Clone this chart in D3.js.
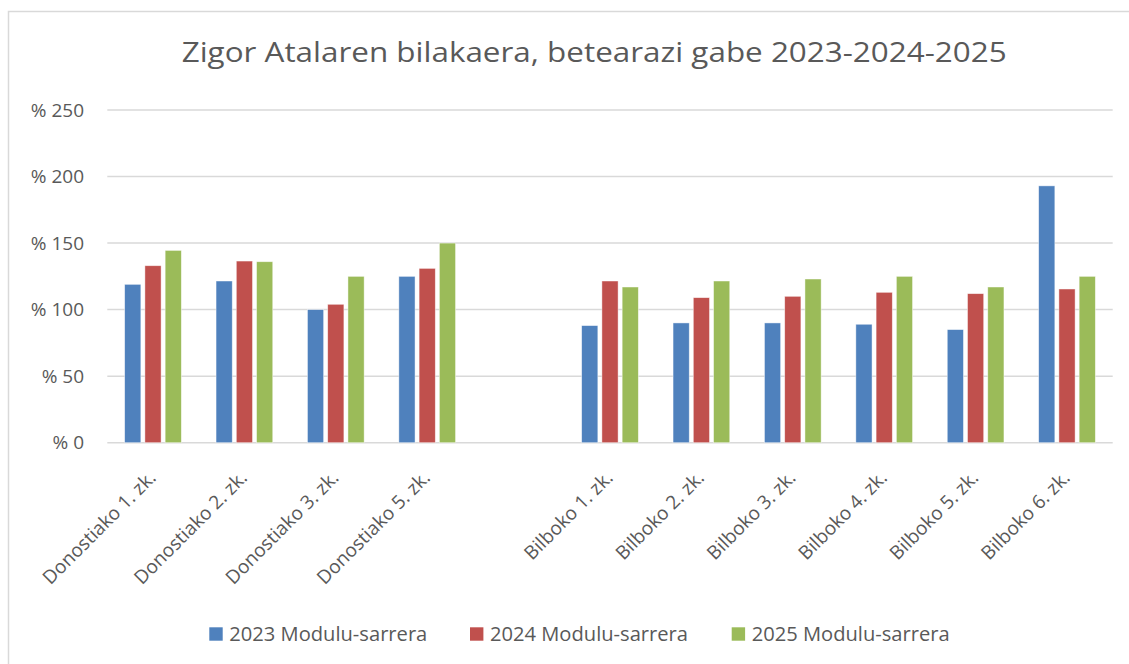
<!DOCTYPE html>
<html>
<head>
<meta charset="utf-8">
<script src="https://cdn.jsdelivr.net/npm/d3@7"></script>
<style>
  html, body { margin: 0; padding: 0; background: #fff; }
  svg { display: block; }
  text { font-family: "Open Sans", "Noto Sans", sans-serif; fill: #595959; }
</style>
</head>
<body>
<svg id="chart" width="1129" height="664"></svg>
<script>
const title = "Zigor Atalaren bilakaera, betearazi gabe 2023-2024-2025";
const categories = ["Donostiako 1. zk.", "Donostiako 2. zk.", "Donostiako 3. zk.", "Donostiako 5. zk.", "",
  "Bilboko 1. zk.", "Bilboko 2. zk.", "Bilboko 3. zk.", "Bilboko 4. zk.", "Bilboko 5. zk.", "Bilboko 6. zk."];
const seriesNames = ["2023 Modulu-sarrera", "2024 Modulu-sarrera", "2025 Modulu-sarrera"];
const v2023 = [119, 121.5, 100, 125, null, 88, 90, 90, 89, 85, 193];
const v2024 = [133, 136.5, 104, 131, null, 121.5, 109, 110, 113, 112, 115.5];
const v2025 = [144.5, 136, 125, 150, null, 117, 121.5, 123, 125, 117, 125];
const yTicks = [0, 50, 100, 150, 200, 250];
const colors = ["#4F81BD", "#C0504D", "#9BBB59"];

(function () {
const seriesValues = [v2023, v2024, v2025];
const svg = d3.select("#chart");

// chart border
svg.append("rect").attr("x", 8.5).attr("y", 11.5).attr("width", 1140).attr("height", 700)
  .attr("fill", "#fff").attr("stroke", "#D9D9D9").attr("stroke-width", 1.5);

const plotLeft = 107.3, plotRight = 1112.7, plotTop = 110, plotBottom = 442.7;
const x0 = d3.scaleBand().domain(categories.map((c, i) => i)).range([plotLeft, plotRight]).paddingInner(0).paddingOuter(0);
const bw = x0.bandwidth();
const groupW = 56.7;
const x1 = d3.scaleBand().domain(seriesNames).range([bw / 2 - groupW / 2, bw / 2 + groupW / 2]).paddingInner(0.2).paddingOuter(0);
const y = d3.scaleLinear().domain([0, 250]).range([plotBottom, plotTop]);

// title
svg.append("text").attr("x", 181.7).attr("y", 62).attr("font-size", 27)
  .attr("textLength", 825).attr("lengthAdjust", "spacingAndGlyphs").text(title);

// gridlines
svg.append("g").selectAll("line").data(yTicks).join("line")
  .attr("x1", plotLeft).attr("x2", plotRight).attr("y1", d => y(d)).attr("y2", d => y(d))
  .attr("stroke", "#D9D9D9").attr("stroke-width", 1.5);

// y axis labels
const yAxis = d3.axisLeft(y).tickValues(yTicks).tickSize(0).tickPadding(0).tickFormat(d => "% " + d);
const gy = svg.append("g").attr("transform", `translate(84,0)`).call(yAxis);
gy.select(".domain").remove();
gy.selectAll("text").attr("font-size", 19).attr("fill", "#595959")
  .style("font-family", '"Open Sans", "Noto Sans", sans-serif');

// bars
const data = [];
categories.forEach((c, i) => {
  seriesNames.forEach((s, j) => {
    const v = seriesValues[j][i];
    if (v != null) data.push({ i, s, j, v });
  });
});
svg.append("g").selectAll("rect").data(data).join("rect")
  .attr("x", d => x0(d.i) + x1(d.s))
  .attr("width", x1.bandwidth())
  .attr("y", d => y(d.v))
  .attr("height", d => y(0) - y(d.v))
  .attr("fill", d => colors[d.j])
  .attr("stroke", "#ffffff").attr("stroke-opacity", 0.6).attr("stroke-width", 0.75);

// x axis labels
const xLab = svg.append("g");
categories.forEach((c, i) => {
  if (!c) return;
  const cx = x0(i) + bw / 2 + 4;
  const cy = 479;
  xLab.append("text")
    .attr("transform", `translate(${cx},${cy}) rotate(-45)`)
    .attr("text-anchor", "end")
    .attr("font-size", 19)
    .text(c);
});

// legend
const legendX = [209.3, 470, 731.7];
const lg = svg.append("g");
seriesNames.forEach((s, j) => {
  lg.append("rect").attr("x", legendX[j]).attr("y", 627.3).attr("width", 13.4).attr("height", 13.4).attr("fill", colors[j]);
  lg.append("text").attr("x", legendX[j] + 20).attr("y", 641).attr("font-size", 20)
    .attr("textLength", 198).attr("lengthAdjust", "spacingAndGlyphs").text(s);
});
})();
</script>
</body>
</html>
